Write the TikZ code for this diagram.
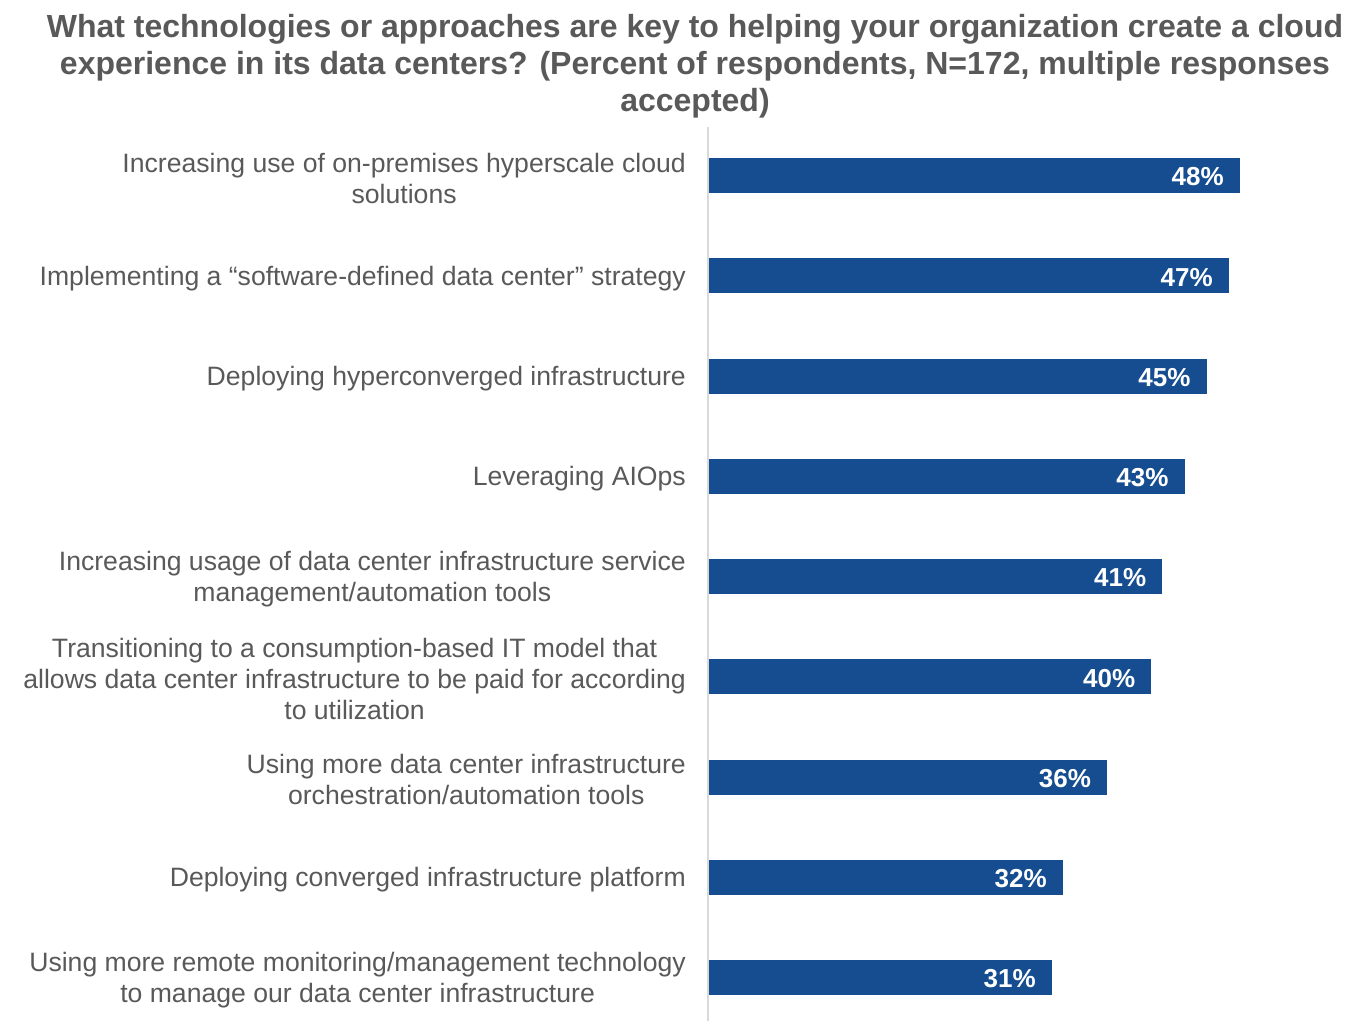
\documentclass[tikz,border=0pt]{standalone}
\usepackage{fontspec}
\setmainfont{Liberation Sans}
\definecolor{bar}{HTML}{154D90}
\definecolor{txt}{HTML}{595959}
\definecolor{axis}{HTML}{D9D9D9}
\begin{document}
\begin{tikzpicture}[x=1pt,y=-1pt,
  lbl/.style={anchor=east,align=center,text=txt,font=\fontsize{26.6}{31}\selectfont,inner sep=0pt},
  val/.style={anchor=east,text=white,font=\fontsize{26}{30}\selectfont\bfseries,inner sep=0pt},
  barbox/.style={fill=bar,draw=none}]
\useasboundingbox (0,0) rectangle (1354,1021);
\node[align=center,text=txt,font=\fontsize{32}{37}\selectfont\bfseries,inner sep=0pt] (title) at (695,66)
  {What technologies or approaches are key to helping your organization create a cloud\\experience in its data centers? (Percent of respondents, N=172, multiple responses\\accepted)};
\draw[axis,line width=2pt] (708,127) coordinate (axtop) -- (708,1021) coordinate (axbot);
\foreach \i/\v/\t in {
 0/48/{Increasing use of on-premises hyperscale cloud\\solutions},
 1/47/{Implementing a “software-defined data center” strategy},
 2/45/{Deploying hyperconverged infrastructure},
 3/43/{Leveraging AIOps},
 4/41/{Increasing usage of data center infrastructure service\\management/automation tools},
 5/40/{Transitioning to a consumption-based IT model that\\allows data center infrastructure to be paid for according\\to utilization},
 6/36/{Using more data center infrastructure\\orchestration/automation tools},
 7/32/{Deploying converged infrastructure platform},
 8/31/{Using more remote monitoring/management technology\\to manage our data center infrastructure}} {
  \pgfmathsetmacro{\yc}{175.5+100.25*\i}
  \pgfmathsetmacro{\xe}{709+11.06*\v}
  \path[barbox] (709,\yc-17.5) rectangle (\xe,\yc+17.5);
  \node[val] (v\i) at (\xe-16,\yc+1.5) {\v\%};
  \node[lbl] (l\i) at (686,\yc+2.5) {\t};
}
\end{tikzpicture}
\end{document}
